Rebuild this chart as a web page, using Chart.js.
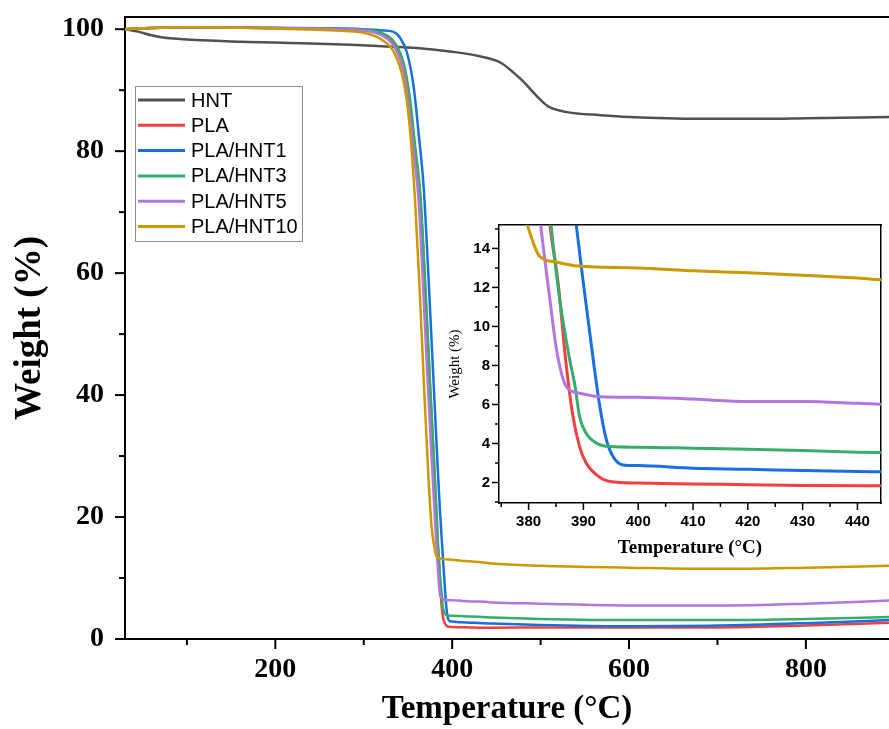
<!DOCTYPE html>
<html>
<head>
<meta charset="utf-8">
<script src="https://cdn.jsdelivr.net/npm/chart.js@4.4.1/dist/chart.umd.min.js"></script>
<style>
  html, body { margin: 0; padding: 0; background: #fff; overflow: hidden; }
  #wrap { position: relative; width: 889px; height: 729px; }
  #mainChart { position: absolute; left: 0; top: 0; }
  #insetChart { position: absolute; left: 440px; top: 215px; }
</style>
</head>
<body>
<div id="wrap">
  <canvas id="mainChart" width="889" height="729"></canvas>
  <canvas id="insetChart" width="449" height="345"></canvas>
</div>
<script>
// TGA curves: temperature (°C) and weight (%) per sample
const seriesNames = ['HNT', 'PLA', 'PLA/HNT1', 'PLA/HNT3', 'PLA/HNT5', 'PLA/HNT10'];
const seriesColors = ['#515151', '#F14040', '#1A6FDF', '#37AD6B', '#B177DE', '#CC9900'];

const hntT = [30, 45, 60, 75, 92, 150, 230, 285, 320, 360, 400, 430, 455, 470, 480, 492, 500, 509, 530, 568, 600, 680, 750, 800, 894];
const hntW = [100, 99.6, 99.0, 98.6, 98.4, 98.0, 97.7, 97.45, 97.2, 96.9, 96.3, 95.6, 94.5, 92.8, 91.5, 89.6, 88.4, 87.3, 86.4, 85.9, 85.6, 85.3, 85.3, 85.4, 85.6];

const plaT = [30, 60, 100, 200, 280, 300, 320, 335, 345, 352, 358, 364, 370, 375, 380, 383.9, 385.4, 386.7, 388.0, 389.3, 390.5, 392.4, 394.8, 400, 410, 420, 430, 445, 500, 600, 700, 800, 894];
const plaW = [100, 100.2, 100.3, 100.2, 100, 99.8, 99.2, 97.5, 94, 88, 80, 72, 56, 41, 27, 15.2, 12.2, 8.45, 5.55, 3.84, 3.0, 2.39, 2.05, 1.97, 1.93, 1.89, 1.85, 1.84, 1.9, 1.9, 1.9, 2.2, 2.65];

const hnt1T = [30, 60, 100, 200, 280, 300, 320, 333, 341, 349, 356.4, 362, 367.7, 373, 378, 383, 386, 388.7, 390, 391.8, 393, 394.2, 395.4, 397.2, 400, 410, 420, 430, 440, 445, 500, 600, 700, 800, 894];
const hnt1W = [100, 100.2, 100.3, 100.2, 100.1, 100, 99.8, 99.6, 98.6, 96.1, 90.6, 83, 74.2, 60, 45, 30, 21.5, 15.2, 12.2, 8.28, 5.89, 4.18, 3.33, 2.9, 2.87, 2.73, 2.68, 2.61, 2.56, 2.55, 2.3, 2.1, 2.2, 2.6, 3.1];

const hnt3T = [30, 60, 100, 200, 280, 300, 320, 335, 345, 352, 358, 364, 370, 375, 380, 384.1, 385.7, 387.5, 388.5, 389.3, 390.5, 392.4, 394.8, 400, 410, 420, 430, 440, 445, 500, 600, 700, 800, 894];
const hnt3W = [100, 100.2, 100.3, 100.2, 100, 99.9, 99.4, 97.8, 94.5, 89, 81, 73, 57, 42, 28, 15.2, 11.35, 8.3, 6.9, 5.38, 4.53, 4.02, 3.84, 3.81, 3.76, 3.71, 3.64, 3.55, 3.53, 3.3, 3.1, 3.1, 3.3, 3.6];

const hnt5T = [30, 60, 100, 200, 280, 300, 320, 335, 345, 352, 357, 362, 367, 372, 377, 380, 382.2, 383.9, 385.1, 386.9, 389.3, 393, 400, 410, 420, 430, 440, 445, 500, 600, 700, 800, 894];
const hnt5W = [100, 100.2, 100.3, 100.2, 100, 99.8, 99.0, 97.0, 93, 86, 79, 72, 58, 43, 29, 21, 15.2, 11.35, 8.8, 6.9, 6.58, 6.4, 6.37, 6.28, 6.15, 6.15, 6.06, 6.0, 5.8, 5.5, 5.5, 5.8, 6.3];

const hnt10T = [30, 60, 100, 200, 280, 300, 320, 335, 345, 352, 358, 363, 368, 373, 377, 380, 382, 385, 389, 400, 410, 420, 430, 440, 445, 500, 600, 700, 800, 894];
const hnt10W = [100, 100.2, 100.3, 100.1, 99.7, 99.4, 98.3, 96.0, 91.5, 84, 72, 58, 42, 27, 18, 15, 13.6, 13.3, 13.1, 13.0, 12.85, 12.75, 12.63, 12.48, 12.38, 12.0, 11.7, 11.5, 11.7, 12.0];

const seriesT = [hntT, plaT, hnt1T, hnt3T, hnt5T, hnt10T];
const seriesW = [hntW, plaW, hnt1W, hnt3W, hnt5W, hnt10W];

// axis ticks
const mainXTicks = [200, 400, 600, 800];
const mainXMinor = [100, 300, 500, 700];
const mainYTicks = [0, 20, 40, 60, 80, 100];
const mainYMinor = [10, 30, 50, 70, 90];
const insetXTicks = [380, 390, 400, 410, 420, 430, 440];
const insetXMinor = [375, 385, 395, 405, 415, 425, 435];
const insetYTicks = [2, 4, 6, 8, 10, 12, 14];
const insetYMinor = [1, 3, 5, 7, 9, 11, 13, 15];

const makeDatasets = (width) => seriesNames.map((name, i) => ({
    label: name,
    data: seriesT[i].map((t, k) => ({ x: t, y: seriesW[i][k] })),
    borderColor: seriesColors[i],
    backgroundColor: seriesColors[i],
    borderWidth: width,
    pointRadius: 0,
    cubicInterpolationMode: 'monotone',
    order: seriesNames.length - i
}));

const fixTicks = (values) => (scale) => { scale.ticks = values.map(v => ({ value: v })); };

// fixed box size, and no extra room for labels hanging over the ends
const fixSize = (prop, size) => (scale) => {
    scale[prop] = size;
    scale.paddingTop = 0; scale.paddingBottom = 0;
    scale.paddingLeft = 0; scale.paddingRight = 0;
};

// outward tick marks, long for labelled ticks, short for minor ones
const tickMarks = {
    id: 'tickMarks',
    afterDraw(chart, args, opts) {
        const ctx = chart.ctx;
        const { x, y } = chart.scales;
        ctx.save();
        ctx.strokeStyle = '#000';
        ctx.lineWidth = opts.width;
        const draw = (x1, y1, x2, y2) => { ctx.beginPath(); ctx.moveTo(x1, y1); ctx.lineTo(x2, y2); ctx.stroke(); };
        opts.xMajor.forEach(v => { const p = x.getPixelForValue(v); draw(p, x.top, p, x.top + opts.major); });
        opts.xMinor.forEach(v => { const p = x.getPixelForValue(v); draw(p, x.top, p, x.top + opts.minor); });
        opts.yMajor.forEach(v => { const p = y.getPixelForValue(v); draw(y.right, p, y.right - opts.major, p); });
        opts.yMinor.forEach(v => { const p = y.getPixelForValue(v); draw(y.right, p, y.right - opts.minor, p); });
        ctx.restore();
    }
};

// boxed legend inside the plot, like the original figure
const boxLegend = {
    id: 'boxLegend',
    afterDraw(chart, args, opts) {
        if (!opts.show) return;
        const ctx = chart.ctx;
        ctx.save();
        ctx.fillStyle = '#fff';
        ctx.fillRect(135, 86, 167, 155);
        ctx.strokeStyle = '#8c8c8c';
        ctx.lineWidth = 1;
        ctx.strokeRect(135.5, 86.5, 167, 155);
        ctx.font = '20px "Liberation Sans", Arial, sans-serif';
        ctx.textBaseline = 'middle';
        chart.data.datasets.forEach((ds, i) => {
            const yy = 100 + i * 25.3;
            ctx.strokeStyle = ds.borderColor;
            ctx.lineWidth = 3;
            ctx.beginPath(); ctx.moveTo(138, yy); ctx.lineTo(185, yy); ctx.stroke();
            ctx.fillStyle = '#000';
            ctx.fillText(ds.label, 191, yy + 1);
        });
        ctx.restore();
    }
};

const serif = '"Liberation Serif", "Times New Roman", serif';
const sans = '"Liberation Sans", Arial, sans-serif';

new Chart(document.getElementById('mainChart'), {
    type: 'line',
    data: { datasets: makeDatasets(2.5) },
    plugins: [tickMarks, boxLegend],
    options: {
        responsive: false,
        animation: false,
        devicePixelRatio: 1,
        layout: { padding: 0 },
        plugins: {
            legend: { display: false },
            tooltip: { enabled: false },
            tickMarks: { xMajor: mainXTicks, xMinor: mainXMinor, yMajor: mainYTicks, yMinor: mainYMinor, major: 10, minor: 6, width: 2 },
            boxLegend: { show: true }
        },
        scales: {
            x: {
                type: 'linear', position: 'bottom', min: 30, max: 894,
                afterBuildTicks: fixTicks(mainXTicks),
                afterFit: fixSize('height', 90),
                grid: { display: false, drawTicks: false },
                border: { display: true, color: '#000', width: 2 },
                ticks: { autoSkip: false, maxRotation: 0, padding: 14, color: '#000', font: { family: serif, size: 28, weight: 'bold' } },
                title: { display: true, text: 'Temperature (°C)', color: '#000', padding: { top: 0, bottom: 0 }, font: { family: serif, size: 33, weight: 'bold' } }
            },
            x2: {
                axis: 'x', type: 'linear', position: 'top', min: 30, max: 894,
                afterFit: fixSize('height', 17),
                grid: { display: false, drawTicks: false },
                border: { display: true, color: '#000', width: 2 },
                ticks: { display: false }
            },
            y: {
                type: 'linear', position: 'left', min: 0, max: 102,
                afterBuildTicks: fixTicks(mainYTicks),
                afterFit: fixSize('width', 125),
                grid: { display: false, drawTicks: false },
                border: { display: true, color: '#000', width: 2 },
                ticks: { autoSkip: false, padding: 21, color: '#000', font: { family: serif, size: 28, weight: 'bold' } },
                title: { display: true, text: 'Weight (%)', color: '#000', padding: { top: 8, bottom: 0 }, font: { family: serif, size: 37, weight: 'bold' } }
            }
        }
    }
});

new Chart(document.getElementById('insetChart'), {
    type: 'line',
    data: { datasets: makeDatasets(3) },
    plugins: [tickMarks],
    options: {
        responsive: false,
        animation: false,
        devicePixelRatio: 1,
        layout: { padding: { top: 10, right: 8, left: 0, bottom: 0 } },
        plugins: {
            legend: { display: false },
            tooltip: { enabled: false },
            tickMarks: { xMajor: insetXTicks, xMinor: insetXMinor, yMajor: insetYTicks, yMinor: insetYMinor, major: 7, minor: 4, width: 1.5 }
        },
        scales: {
            x: {
                type: 'linear', position: 'bottom', min: 374.6, max: 444.3,
                afterBuildTicks: fixTicks(insetXTicks),
                afterFit: fixSize('height', 57),
                grid: { display: false, drawTicks: false },
                border: { display: true, color: '#000', width: 1.5 },
                ticks: { autoSkip: false, maxRotation: 0, padding: 10, color: '#000', font: { family: sans, size: 15, weight: 'bold' } },
                title: { display: true, text: 'Temperature (°C)', color: '#000', padding: { top: 0, bottom: 1 }, font: { family: serif, size: 19, weight: 'bold' } }
            },
            x2: {
                axis: 'x', type: 'linear', position: 'top', min: 374.6, max: 444.3,
                afterFit: fixSize('height', 0),
                grid: { display: false, drawTicks: false },
                border: { display: true, color: '#000', width: 1.5 },
                ticks: { display: false }
            },
            y: {
                type: 'linear', position: 'left', min: 0.95, max: 15.2,
                afterBuildTicks: fixTicks(insetYTicks),
                afterFit: fixSize('width', 59),
                grid: { display: false, drawTicks: false },
                border: { display: true, color: '#000', width: 1.5 },
                ticks: { autoSkip: false, padding: 9, color: '#000', font: { family: sans, size: 15, weight: 'bold' } },
                title: { display: true, text: 'Weight (%)', color: '#000', padding: { top: 6, bottom: 0 }, font: { family: serif, size: 15 } }
            },
            y2: {
                axis: 'y', type: 'linear', position: 'right', min: 0.95, max: 15.2,
                afterFit: fixSize('width', 0),
                grid: { display: false, drawTicks: false },
                border: { display: true, color: '#000', width: 1.5 },
                ticks: { display: false }
            }
        }
    }
});
</script>
</body>
</html>
